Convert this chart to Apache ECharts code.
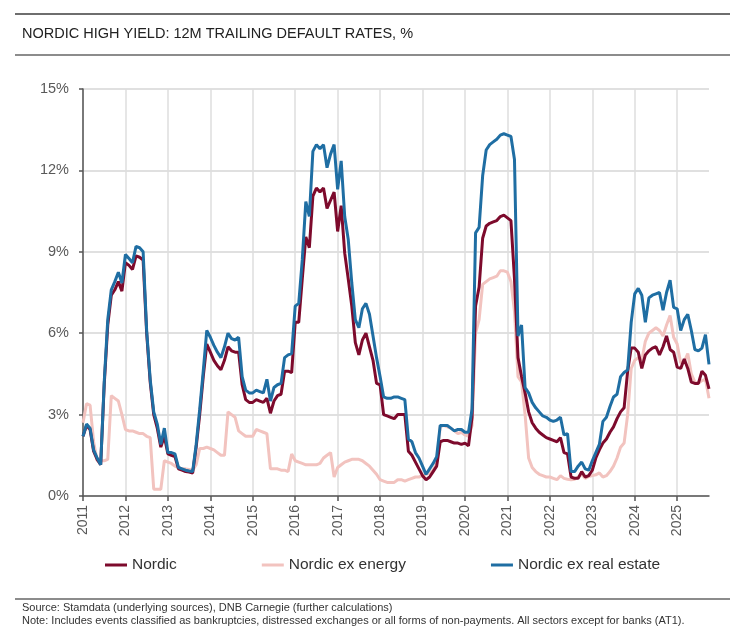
<!DOCTYPE html>
<html lang="en">
  <head>
    <meta charset="UTF-8" />
    <title>Nordic high yield default rates</title>
    <script src="https://cdn.jsdelivr.net/npm/echarts@6/dist/echarts.min.js"></script>
    <style>
      html,
      body {
        margin: 0;
        padding: 0;
        background: #fff;
      }
      #main {
        width: 745px;
        height: 639px;
      }
    </style>
  </head>
  <body>
    <div id="main"></div>
    <script type="text/javascript">
      // monthly values, Jan 2011 .. Oct 2025
      var startYear = 2011;
      var nordic = [
        2.2, 2.6, 2.45, 1.65, 1.35, 1.15, 4.1, 6.3, 7.4, 7.6, 7.9, 7.55,
        8.6, 8.5, 8.35, 8.85, 8.8, 8.7, 6.0, 4.2, 3.0, 2.5, 1.8, 2.2,
        1.55, 1.5, 1.45, 1.0, 0.95, 0.9, 0.88, 0.85, 1.8, 3.0, 4.4, 5.6,
        5.3, 5.0, 4.8, 4.65, 5.0, 5.5, 5.35, 5.3, 5.3, 4.1, 3.55, 3.45,
        3.45, 3.55, 3.5, 3.45, 3.6, 3.05, 3.5, 3.7, 3.75, 4.6, 4.6, 4.55,
        6.4, 6.4, 8.0, 9.55, 9.15, 11.05, 11.35, 11.2, 11.35, 10.6, 10.9, 11.2,
        9.75, 10.7, 8.95, 8.0, 7.0, 5.65, 5.2, 5.75, 6.0, 5.5, 5.0, 4.15,
        4.1, 3.0, 2.95, 2.9, 2.85, 3.0, 3.0, 3.0, 1.65, 1.5, 1.25, 1.0,
        0.75, 0.6, 0.7, 0.9, 1.1, 2.0, 2.05, 2.05, 2.0, 1.95, 1.95, 1.9,
        1.95, 1.85, 2.9, 7.0, 7.7, 9.5, 9.95, 10.05, 10.1, 10.15, 10.3, 10.35,
        10.25, 10.15, 8.0, 5.1, 4.4, 3.8, 3.1, 2.7, 2.5, 2.35, 2.25, 2.15,
        2.1, 2.05, 2.0, 2.15, 1.6, 1.55, 0.7, 0.65, 0.65, 0.9, 0.7, 0.75,
        0.95, 1.4, 1.7, 1.95, 2.1, 2.35, 2.55, 2.85, 3.1, 3.25, 4.6, 5.45,
        5.45, 5.3, 4.7, 5.2, 5.35, 5.45, 5.5, 5.2, 5.5, 5.9, 5.4, 5.3,
        4.75, 4.7, 5.05, 4.7, 4.2, 4.15, 4.15, 4.6, 4.45, 3.95
      ];
      var exEnergy = [
        2.7, 3.4, 3.35, 2.0, 1.3, 1.3, 1.3, 1.35, 3.7, 3.6, 3.5, 3.0,
        2.45, 2.4, 2.4, 2.35, 2.3, 2.3, 2.2, 2.15, 0.25, 0.25, 0.25, 1.3,
        1.25, 1.2, 1.1, 1.05, 1.0, 1.0, 0.98, 0.95, 1.15, 1.75, 1.75, 1.8,
        1.75, 1.7, 1.6, 1.5, 1.5, 3.1, 3.0, 2.9, 2.4, 2.3, 2.2, 2.2,
        2.2, 2.45, 2.4, 2.35, 2.3, 1.0, 1.0, 1.0, 0.95, 0.95, 0.9, 1.55,
        1.3, 1.25, 1.2, 1.15, 1.15, 1.15, 1.15, 1.2, 1.4, 1.5, 1.6, 0.7,
        1.05, 1.15, 1.25, 1.3, 1.35, 1.35, 1.35, 1.3, 1.2, 1.1, 0.95, 0.8,
        0.6, 0.55, 0.5, 0.5, 0.5, 0.6, 0.6, 0.55, 0.6, 0.65, 0.7, 0.7,
        0.75, 0.8, 0.85, 0.95, 1.2, 2.55, 2.6, 2.55, 2.5, 2.4, 2.3, 2.35,
        2.25, 2.2, 2.6, 6.0, 6.5, 7.8, 7.9, 8.0, 8.05, 8.1, 8.3, 8.3,
        8.25, 7.9, 6.8, 4.4, 4.2, 3.0, 1.4, 1.05, 0.9, 0.8, 0.75, 0.7,
        0.7, 0.65, 0.6, 0.75, 0.65, 0.62, 0.6, 0.62, 0.7, 0.8, 0.65, 0.72,
        0.75, 0.78, 0.85, 0.7, 0.75, 0.9, 1.1, 1.4, 1.8, 1.95, 3.0, 4.7,
        5.0, 5.1, 5.0, 5.7, 6.0, 6.1, 6.2, 6.1, 5.9, 6.3, 6.65, 5.85,
        5.6, 4.9, 4.95, 5.25, 4.5, 4.2, 4.15, 4.25, 4.3, 3.6
      ];
      var exRealEstate = [
        2.2, 2.65, 2.5, 1.7, 1.4, 1.15, 4.2, 6.5, 7.6, 7.9, 8.25, 7.85,
        8.9, 8.75, 8.6, 9.2, 9.15, 9.0, 6.1, 4.3, 3.1, 2.65, 1.9, 2.5,
        1.6, 1.6, 1.55, 1.05, 1.0, 0.95, 0.92, 0.9, 1.9, 3.2, 4.6, 6.1,
        5.85, 5.55, 5.3, 5.1, 5.5, 6.0, 5.8, 5.75, 5.85, 4.4, 3.9, 3.8,
        3.8, 3.9, 3.85, 3.8, 4.3, 3.5, 4.0, 4.1, 4.15, 5.1, 5.2, 5.25,
        7.0, 7.1, 8.7, 10.85, 10.3, 12.7, 12.95, 12.8, 12.95, 12.1, 12.6, 12.95,
        11.3, 12.35, 10.3, 9.45, 7.85, 6.5, 6.2, 6.9, 7.1, 6.7, 5.9, 5.1,
        4.4, 3.65, 3.6, 3.6, 3.65, 3.65, 3.6, 3.55, 2.1, 2.0, 1.6, 1.4,
        1.1, 0.8, 1.0, 1.2, 1.45, 2.6, 2.6, 2.6, 2.5, 2.4, 2.45, 2.45,
        2.35, 2.35, 3.2, 9.7, 9.9, 11.8, 12.75, 12.95, 13.05, 13.15, 13.3, 13.35,
        13.3, 13.25, 12.4, 5.9, 6.3, 4.0, 3.8, 3.45, 3.25, 3.1, 2.95, 2.9,
        2.8, 2.75, 2.8, 2.9, 2.25, 2.3, 0.9, 0.9, 1.1, 1.25, 1.0, 0.95,
        1.3, 1.6, 1.9, 2.75, 2.9, 3.3, 3.65, 3.75, 4.4, 4.55, 4.65, 6.4,
        7.45, 7.65, 7.4, 6.4, 7.3, 7.4, 7.45, 7.5, 6.85, 7.5, 7.95, 6.95,
        6.9, 6.1, 6.5, 6.7, 6.1, 5.4, 5.35, 5.45, 5.95, 4.85
      ];
      var yTicks = [0, 3, 6, 9, 12, 15];

      var months = [];
      for (var i = 0; i < nordic.length; i++) {
        var y = startYear + Math.floor(i / 12);
        var m = (i % 12) + 1;
        months.push(y + "-" + (m < 10 ? "0" + m : m));
      }
      function isJan(index) {
        return index % 12 === 0;
      }

      var myChart = echarts.init(document.getElementById("main"));
      var option = {
        animation: false,
        textStyle: { fontFamily: "Liberation Sans" },
        graphic: [
          { type: "rect", shape: { x: 15, y: 13, width: 715, height: 2 }, style: { fill: "#6e6e6e" } },
          {
            type: "text",
            left: 22,
            top: 26,
            style: {
              text: "NORDIC HIGH YIELD: 12M TRAILING DEFAULT RATES, %",
              font: "14.5px Liberation Sans",
              fill: "#222"
            }
          },
          { type: "rect", shape: { x: 15, y: 54, width: 715, height: 2 }, style: { fill: "#8c8c8c" } },
          { type: "rect", shape: { x: 15, y: 598, width: 715, height: 2 }, style: { fill: "#8c8c8c" } },
          {
            type: "text",
            left: 22,
            top: 602,
            style: {
              text: "Source: Stamdata (underlying sources), DNB Carnegie (further calculations)",
              font: "11px Liberation Sans",
              fill: "#333"
            }
          },
          {
            type: "text",
            left: 22,
            top: 615,
            style: {
              text: "Note: Includes events classified as bankruptcies, distressed exchanges or all forms of non-payments. All sectors except for banks (AT1).",
              font: "11px Liberation Sans",
              fill: "#333"
            }
          }
        ],
        legend: {
          left: 100,
          top: 552,
          icon: "rect",
          itemWidth: 22,
          itemHeight: 3,
          itemGap: 85,
          textStyle: { fontSize: 15.5, color: "#333", fontFamily: "Liberation Sans" },
          data: ["Nordic", "Nordic ex energy", "Nordic ex real estate"]
        },
        grid: { left: 83, right: 36, top: 89, bottom: 143 },
        xAxis: {
          type: "category",
          data: months,
          boundaryGap: false,
          axisLine: { lineStyle: { color: "#555", width: 1.5 } },
          axisTick: { interval: isJan, length: 5, lineStyle: { color: "#555", width: 1.5 } },
          axisLabel: {
            interval: isJan,
            rotate: 90,
            margin: 9,
            fontSize: 14,
            color: "#595959",
            formatter: function (v) {
              return v.slice(0, 4);
            }
          },
          splitLine: { show: true, interval: isJan, lineStyle: { color: "#dedede", width: 1.5 } }
        },
        yAxis: {
          type: "value",
          min: yTicks[0],
          max: yTicks[yTicks.length - 1],
          interval: yTicks[1] - yTicks[0],
          axisLine: { show: true, lineStyle: { color: "#555", width: 1.5 } },
          axisTick: { show: true, length: 4, lineStyle: { color: "#555", width: 1.5 } },
          axisLabel: { formatter: "{value}%", fontSize: 14.5, color: "#595959", margin: 14 },
          splitLine: { lineStyle: { color: "#d6d6d6", width: 1.5 } }
        },
        series: [
          {
            name: "Nordic",
            type: "line",
            data: nordic,
            showSymbol: false,
            color: "#7d0a2c",
            lineStyle: { width: 3 },
            emphasis: { disabled: true },
            z: 3
          },
          {
            name: "Nordic ex energy",
            type: "line",
            data: exEnergy,
            showSymbol: false,
            color: "#f2c3bf",
            lineStyle: { width: 3 },
            emphasis: { disabled: true },
            z: 2
          },
          {
            name: "Nordic ex real estate",
            type: "line",
            data: exRealEstate,
            showSymbol: false,
            color: "#1f6ea3",
            lineStyle: { width: 3 },
            emphasis: { disabled: true },
            z: 4
          }
        ]
      };
      myChart.setOption(option);
    </script>
  </body>
</html>
